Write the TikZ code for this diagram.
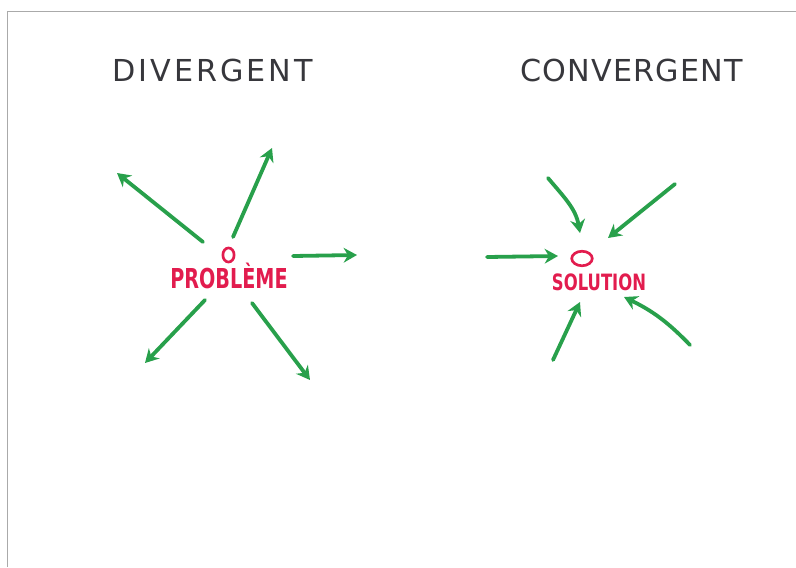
\documentclass[tikz,border=0pt]{standalone}
\usepackage{fontspec}
\newfontfamily\handfont{DejaVu Sans}
\usetikzlibrary{arrows.meta,shapes.geometric}
\definecolor{feutre}{RGB}{40,160,75}
\definecolor{rouge}{RGB}{226,28,78}
\definecolor{crayon}{RGB}{55,55,60}
\definecolor{bord}{RGB}{170,170,170}
\tikzset{
	fleche/.style={feutre,line width=2.7pt,line cap=round,->},
	titre/.style={crayon,anchor=base,font=\handfont\fontsize{21.5}{24}\selectfont},
	mot/.style={rouge,anchor=base,font=\handfont\bfseries\fontsize{19.5}{22}\selectfont},
	rond/.style={draw=rouge,line width=1.9pt,ellipse,inner sep=0pt},
}
\begin{document}
\begin{tikzpicture}[>={Stealth[length=9.5pt,width=10.5pt]},line join=round,x=0.025cm,y=0.025cm]
			\useasboundingbox (0,0) rectangle (796,-567);
			\draw[bord,line width=1pt] (7.5,-567)--(7.5,-11.5)--(796,-11.5);
			
			\node[titre] (div) at (212.5,-81) {\addfontfeature{LetterSpace=10}DIVERGENT};
			\node[titre] (conv) at (631.5,-81.5) {\addfontfeature{LetterSpace=4}CONVERGENT};
			
			% divergent
			\node[rond,minimum width=8pt,minimum height=10pt] (o1) at (228.5,-255) {};
			\node[mot,xscale=.7] (pb) at (229,-288) {PROBLÈME};
			\coordinate (d1) at (203,-242); \coordinate (e1) at (117,-173);
			\coordinate (d2) at (233,-237); \coordinate (e2) at (272,-148);
			\coordinate (d3) at (293,-256); \coordinate (e3) at (357,-255);
			\coordinate (d4) at (205,-300); \coordinate (e4) at (145,-363);
			\coordinate (d5) at (252,-303); \coordinate (e5) at (310,-380);
			\foreach \i in {1,...,5}
			\draw[fleche] (d\i)--(e\i);
			
			% convergent
			\node[rond,minimum width=14.6pt,minimum height=10.3pt] (o2) at (582,-258.5) {};
			\node[mot,xscale=.73,font=\handfont\bfseries\fontsize{16}{18}\selectfont] (so) at (599,-290.5) {SOLUTION};
			\coordinate (a1) at (548,-178); \coordinate (b1) at (580,-233);
			\coordinate (a2) at (675,-184); \coordinate (b2) at (608,-238);
			\coordinate (a3) at (487,-257); \coordinate (b3) at (558,-256);
			\coordinate (a4) at (553,-360); \coordinate (b4) at (580,-302);
			\coordinate (a5) at (690,-345); \coordinate (b5) at (624,-297);
			\draw[fleche] (a1) to[out=-50,in=100] (b1);
			\draw[fleche] (a2)--(b2);
			\draw[fleche] (a3)--(b3);
			\draw[fleche] (a4)--(b4);
			\draw[fleche] (a5) to[bend right=10] (b5);
		\end{tikzpicture}
\end{document}
